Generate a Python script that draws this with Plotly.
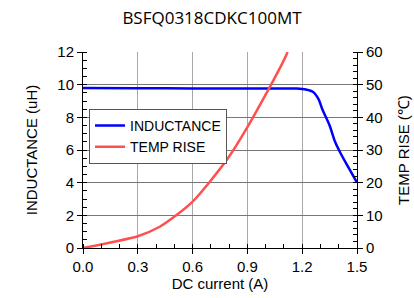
import plotly.graph_objects as go

current_ind = [0.0, 0.3, 0.6, 0.9, 1.1, 1.17, 1.22, 1.26, 1.29, 1.31, 1.35, 1.38, 1.41, 1.46, 1.5]
inductance = [9.8, 9.78, 9.77, 9.77, 9.77, 9.76, 9.7, 9.55, 9.1, 8.5, 7.5, 6.5, 5.8, 4.8, 4.0]

current_temp = [0.0, 0.15, 0.3, 0.42, 0.51, 0.6, 0.69, 0.8, 0.9, 1.02, 1.1, 1.12]
temp_rise = [0.0, 1.7, 3.6, 6.5, 10.0, 14.2, 20.0, 28.0, 37.0, 49.0, 57.5, 60.0]

x_ticks = [0.0, 0.3, 0.6, 0.9, 1.2, 1.5]
x_labels = ["0.0", "0.3", "0.6", "0.9", "1.2", "1.5"]

font = "Liberation Sans, Arial, sans-serif"

fig = go.Figure()
fig.add_trace(go.Scatter(x=current_ind, y=inductance, name="INDUCTANCE", mode="lines",
                         line=dict(color="#0000ff", width=2.5, shape="spline", smoothing=0.8)))
fig.add_trace(go.Scatter(x=current_temp, y=temp_rise, name="TEMP RISE", mode="lines", yaxis="y2",
                         line=dict(color="#ff5050", width=2.5, shape="spline", smoothing=0.8)))

fig.update_layout(
    width=414, height=298,
    margin=dict(l=83, r=57, t=52, b=50, autoexpand=False),
    paper_bgcolor="white", plot_bgcolor="white",
    font=dict(family=font, size=15, color="black"),
    title=dict(text="BSFQ0318CDKC100MT", x=0.512, xanchor="center", xref="container",
               y=0.94, yanchor="middle",
               font=dict(family="Open Sans, sans-serif", size=17, color="black")),
    showlegend=True,
    legend=dict(x=0.022, y=0.71, xanchor="left", yanchor="top", bgcolor="white",
                bordercolor="#555555", borderwidth=1, font=dict(size=14),
                tracegroupgap=0, itemwidth=30),
    xaxis=dict(range=[0, 1.5], tickvals=x_ticks, ticktext=x_labels, automargin=False,
               showgrid=True, gridcolor="#a8a8a8", gridwidth=1,
               showline=True, linecolor="black", linewidth=1, zeroline=False,
               ticks="outside", ticklen=5, tickcolor="black",
               minor=dict(dtick=0.1, ticks="inside", ticklen=4, tickcolor="black", showgrid=False),
               title=dict(text="DC current (A)", font=dict(size=15), standoff=3)),
    yaxis=dict(range=[0, 12], dtick=2, showgrid=True, gridcolor="#777777", gridwidth=1,
               automargin=False,
               showline=True, linecolor="black", linewidth=1, zeroline=False,
               ticks="outside", ticklen=5, tickcolor="black",
               minor=dict(dtick=0.5, ticks="inside", ticklen=4, tickcolor="black", showgrid=False),
               title=dict(text="INDUCTANCE (uH)", font=dict(size=15), standoff=16)),
    yaxis2=dict(range=[0, 60], dtick=10, overlaying="y", side="right", showgrid=False,
                automargin=False,
                showline=True, linecolor="black", linewidth=1, zeroline=False,
                ticks="outside", ticklen=5, tickcolor="black",
                minor=dict(dtick=2, ticks="inside", ticklen=4, tickcolor="black"),
                title=dict(text="TEMP RISE (℃)", font=dict(size=15), standoff=16)),
)

fig.write_html("out.html", config={"displayModeBar": False},
               post_script="document.body.style.margin='0';document.body.style.overflow='hidden';")
